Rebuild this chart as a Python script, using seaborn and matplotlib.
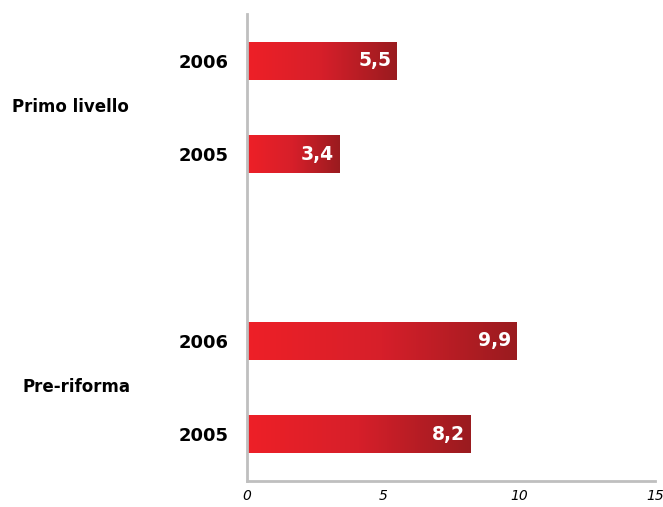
import matplotlib.pyplot as plt
import matplotlib.colors as mcolors
import numpy as np
import pandas as pd
import seaborn as sns

groups = ["Primo livello", "Pre-riforma"]
years = ["2006", "2005", "2006", "2005"]
values = [5.5, 3.4, 9.9, 8.2]
group_of_bar = ["Primo livello", "Primo livello", "Pre-riforma", "Pre-riforma"]
positions = [0, 1, 3, 4]

df = pd.DataFrame({"pos": positions, "value": values, "year": years, "group": group_of_bar})

sns.set_style("white")
plt.rcParams['font.family'] = ['DejaVu Sans']
plt.rcParams['text.color'] = 'black'
plt.rcParams['xtick.color'] = 'black'
plt.rcParams['ytick.color'] = 'black'

fig = plt.figure(figsize=(6.63, 5.07), dpi=100)
ax = fig.add_axes([0.3725, 0.0513, 0.6155, 0.9211])

sns.barplot(data=df, x="value", y="pos", orient="h", native_scale=True,
            width=0.41, color="#ED1C24", ax=ax)

# gradient fill, light red on the left to dark red at the bar end
cmap = mcolors.LinearSegmentedColormap.from_list("redgrad", ["#EE2027", "#D61F2A", "#9A1B1F"])
grad = np.linspace(0, 1, 256).reshape(1, -1)
for patch in list(ax.patches):
    x0, y0 = patch.get_x(), patch.get_y()
    w, h = patch.get_width(), patch.get_height()
    im = ax.imshow(grad, cmap=cmap, aspect="auto", extent=[x0, x0 + w, y0 + h, y0],
                   zorder=2, interpolation="bicubic")
    im.set_clip_path(patch)
    patch.set_facecolor("none")
    patch.set_edgecolor("none")

for p, v in zip(positions, values):
    ax.text(v - 0.2, p, f"{v:.1f}".replace(".", ","), color="white", fontsize=13.5,
            fontweight="bold", ha="right", va="center", zorder=3)

ax.set_xlim(0, 15)
ax.set_ylim(4.5, -0.5)
ax.set_xticks([0, 5, 10, 15])
ax.set_xticklabels(["0", "5", "10", "15"], fontstyle="italic", fontsize=10)
ax.set_yticks(positions)
ax.set_yticklabels(years, fontweight="bold", fontsize=13)
ax.tick_params(axis="y", length=0, pad=13)
ax.tick_params(axis="x", length=0, pad=6)
ax.set_xlabel("")
ax.set_ylabel("")

for s in ["top", "right"]:
    ax.spines[s].set_visible(False)
for s in ["left", "bottom"]:
    ax.spines[s].set_color("#BFBFBF")
    ax.spines[s].set_linewidth(2)

# group labels
fig.text(12 / 663, 1 - 107 / 507, "Primo livello", fontsize=12, fontweight="bold", ha="left", va="center")
fig.text(22 / 663, 1 - 387 / 507, "Pre-riforma", fontsize=12, fontweight="bold", ha="left", va="center")

fig.savefig("out.png", dpi=100)
